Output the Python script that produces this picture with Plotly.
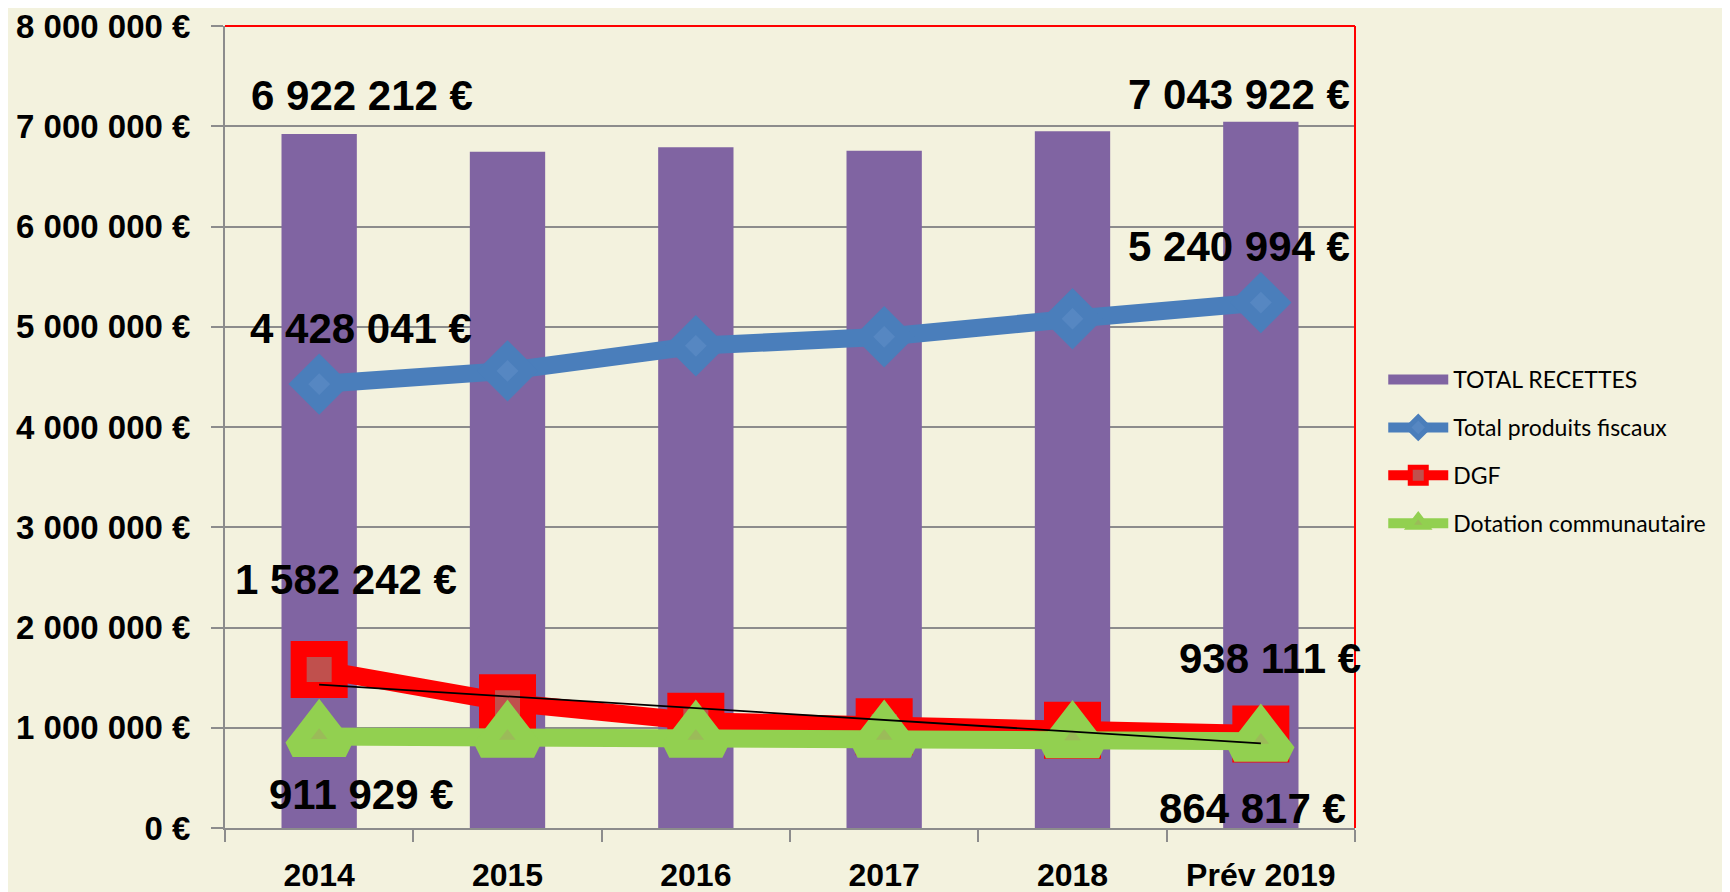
import numpy as np
import plotly.graph_objects as go

categories = ["2014", "2015", "2016", "2017", "2018", "Prév 2019"]
total_recettes = [6922212, 6745000, 6790000, 6755000, 6950000, 7043922]
produits_fiscaux = [4428041, 4560000, 4810000, 4900000, 5080000, 5240994]
dgf = [1582242, 1250000, 1065000, 1010000, 975000, 938111]
dotation = [911929, 905000, 905000, 905000, 900000, 864817]

y_tickvals = [0, 1000000, 2000000, 3000000, 4000000, 5000000, 6000000, 7000000, 8000000]
y_ticktext = ["0 €", "1 000 000 €", "2 000 000 €", "3 000 000 €", "4 000 000 €",
              "5 000 000 €", "6 000 000 €", "7 000 000 €", "8 000 000 €"]

# data labels: (series, index, text, xshift, yshift)
label_specs = [
    (total_recettes, 0, "6 922 212 €", 43, 39),
    (total_recettes, 5, "7 043 922 €", -22, 27),
    (produits_fiscaux, 0, "4 428 041 €", 42, 56),
    (produits_fiscaux, 5, "5 240 994 €", -22, 56),
    (dgf, 0, "1 582 242 €", 27, 90),
    (dgf, 5, "938 111 €", 9, 75),
    (dotation, 0, "911 929 €", 42, -58),
    (dotation, 5, "864 817 €", -8, -67),
]

BG = "#F3F2DE"
PURPLE = "#8064A2"
fig = go.Figure()

fig.add_trace(go.Bar(
    x=categories, y=total_recettes, name="TOTAL RECETTES",
    marker=dict(color=PURPLE, line=dict(width=0)),
    showlegend=False, legendgroup="a",
))
# legend entry for the bars (wide rectangle like the original legend key)
fig.add_trace(go.Scatter(
    x=[None], y=[None], name="TOTAL RECETTES", mode="lines",
    line=dict(color=PURPLE, width=15), legendgroup="a",
))
fig.add_trace(go.Scatter(
    x=categories, y=produits_fiscaux, name="Total produits fiscaux",
    mode="lines+markers",
    line=dict(color="#4A7EBB", width=18),
    marker=dict(symbol="diamond", size=32, color="#5687C2",
                line=dict(color="#4A7EBB", width=14)),
    legendgroup="b",
))
fig.add_trace(go.Scatter(
    x=categories, y=dgf, name="DGF",
    mode="lines+markers",
    line=dict(color="#FF0000", width=18),
    marker=dict(symbol="square", size=41, color="#C0504D",
                line=dict(color="#FF0000", width=16)),
    legendgroup="c",
))
fig.add_trace(go.Scatter(
    x=categories, y=dotation, name="Dotation communautaire",
    mode="lines+markers",
    line=dict(color="#92D050", width=18),
    marker=dict(symbol="triangle-up", size=46, color="#9BBB59",
                line=dict(color="#92D050", width=18)),
    legendgroup="d",
))

# linear trendline of DGF
xi = np.arange(len(dgf))
coef = np.polyfit(xi, np.array(dgf, dtype=float), 1)
trend = np.polyval(coef, xi)
fig.add_trace(go.Scatter(
    x=categories, y=trend.tolist(), mode="lines", showlegend=False,
    line=dict(color="black", width=1.8), hoverinfo="skip",
))

for series, i, txt, dx, dy in label_specs:
    fig.add_annotation(
        x=i, y=series[i], xref="x", yref="y", text=txt, showarrow=False,
        xshift=dx, yshift=dy,
        font=dict(family="Liberation Sans", size=42, color="black", weight="bold"),
    )

# red plot-area border on top and right
fig.add_shape(type="line", xref="paper", yref="paper", x0=0, x1=1, y0=1, y1=1,
              line=dict(color="#FF0000", width=2))
fig.add_shape(type="line", xref="paper", yref="paper", x0=1, x1=1, y0=0, y1=1,
              line=dict(color="#FF0000", width=2))

fig.update_layout(
    width=1730, height=892,
    paper_bgcolor=BG, plot_bgcolor=BG,
    margin=dict(l=217, r=383, t=18, b=72, autoexpand=False),
    bargap=0.6,
    showlegend=True,
    legend=dict(
        x=1.025, y=0.586, xanchor="left", yanchor="top",
        font=dict(family="Lato", size=23, color="black"),
        bgcolor="rgba(0,0,0,0)", tracegroupgap=15, itemwidth=60,
        traceorder="grouped",
    ),
    xaxis=dict(
        type="category", categoryorder="array", categoryarray=categories,
        range=[-0.5, 5.5], autorange=False,
        tickson="boundaries", ticks="outside", ticklen=12,
        tickcolor="#8C8C8C", tickwidth=2, tickangle=0, automargin=False,
        showline=True, linecolor="#8C8C8C", linewidth=2,
        showgrid=False, ticklabelstandoff=18, ticklabeloverflow="allow",
        tickfont=dict(family="Liberation Sans", size=32, color="black", weight="bold"),
    ),
    yaxis=dict(
        range=[0, 8000000], autorange=False, tickvals=y_tickvals, ticktext=y_ticktext,
        ticks="outside", ticklen=12, tickcolor="#8C8C8C", tickwidth=2, automargin=False,
        showline=True, linecolor="#8C8C8C", linewidth=2,
        showgrid=True, gridcolor="#8C8C8C", gridwidth=2,
        zeroline=False, ticklabelstandoff=14, ticklabeloverflow="allow",
        tickfont=dict(family="Liberation Sans", size=33, color="black", weight="bold"),
    ),
)

fig.write_html("out.html")
